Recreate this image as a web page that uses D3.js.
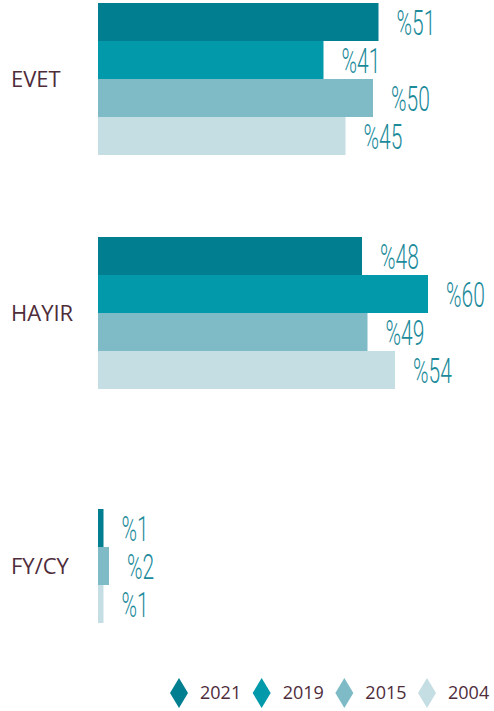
<!DOCTYPE html>
<html>
<head>
<meta charset="utf-8">
<script src="https://cdn.jsdelivr.net/npm/d3@7"></script>
<style>
    body { margin: 0; background: #ffffff; }
    .cat { font-family: "Open Sans", sans-serif; font-size: 22px; fill: #4e2c3a; }
    .val { font-family: Roboto, sans-serif; font-weight: 300; font-size: 35px; fill: #1b8a9a; }
    .leg { font-family: "Open Sans", sans-serif; font-size: 18px; fill: #4e2c3a; }
</style>
</head>
<body>
<div class="content"></div>
<script>
var categories = ["EVET", "HAYIR", "FY/CY"];
var years = ["2021", "2019", "2015", "2004"];
var values2021 = [51, 48, 1];
var values2019 = [41, 60, null];
var values2015 = [50, 49, 2];
var values2004 = [45, 54, 1];
var colors = ["#017f91", "#029aab", "#7ebbc7", "#c5dee4"];

var fullWidth = 494,
    fullHeight = 711;

var seriesValues = [values2021, values2019, values2015, values2004];

var svg = d3.select("div.content").append("svg")
    .attr("width", fullWidth)
    .attr("height", fullHeight);

//scales
var x = d3.scaleLinear().domain([0, 60]).range([98, 428]);
var y = d3.scaleBand().domain(categories).range([3, 623]).paddingInner(0.3504).paddingOuter(0);
var ySub = d3.scaleBand().domain(d3.range(years.length)).range([0, y.bandwidth()]);
var color = d3.scaleOrdinal().domain(years).range(colors);

//rows per category: missing years leave an empty slot at the top
var groups = categories.map(function(c, ci){
    var present = [];
    years.forEach(function(yr, si){
        var v = seriesValues[si][ci];
        if (v != null) present.push({cat: c, year: yr, value: v});
    });
    var offset = years.length - present.length;
    present.forEach(function(d, i){ d.slot = offset + i; });
    return {cat: c, bars: present, offset: offset};
});

var g = svg.selectAll(".group")
    .data(groups)
  .enter().append("g")
    .attr("class", "group")
    .attr("transform", function(d){ return "translate(0," + y(d.cat) + ")"; });

//bars
g.selectAll(".bar")
    .data(function(d){ return d.bars; })
  .enter().append("rect")
    .attr("class", "bar")
    .attr("x", x(0))
    .attr("y", function(d){ return ySub(d.slot); })
    .attr("width", function(d){ return x(d.value) - x(0); })
    .attr("height", ySub.bandwidth())
    .style("fill", function(d){ return color(d.year); });

//value labels
g.selectAll(".val")
    .data(function(d){ return d.bars; })
  .enter().append("text")
    .attr("class", "val")
    .attr("transform", function(d){
        return "translate(" + (x(d.value) + 18) + "," + (ySub(d.slot) + ySub.bandwidth() / 2) + ") scale(0.6,1)";
    })
    .attr("dy", "0.36em")
    .text(function(d){ return "%" + d.value; });

//category labels
g.append("text")
    .attr("class", "cat")
    .attr("x", 11)
    .attr("y", function(d){ return ySub(d.offset) + (y.bandwidth() - ySub(d.offset)) / 2; })
    .attr("dy", "0.36em")
    .text(function(d){ return d.cat; });

//legend
var legendX = d3.scalePoint().domain(years).range([179, 427]);
var legend = svg.selectAll(".legend")
    .data(years)
  .enter().append("g")
    .attr("class", "legend")
    .attr("transform", function(d){ return "translate(" + legendX(d) + ",693)"; });

legend.append("path")
    .attr("d", "M0,-15L9,0L0,15L-9,0Z")
    .style("fill", function(d){ return color(d); });

legend.append("text")
    .attr("class", "leg")
    .attr("x", 21)
    .attr("dy", "0.36em")
    .text(function(d){ return d; });
</script>
</body>
</html>
